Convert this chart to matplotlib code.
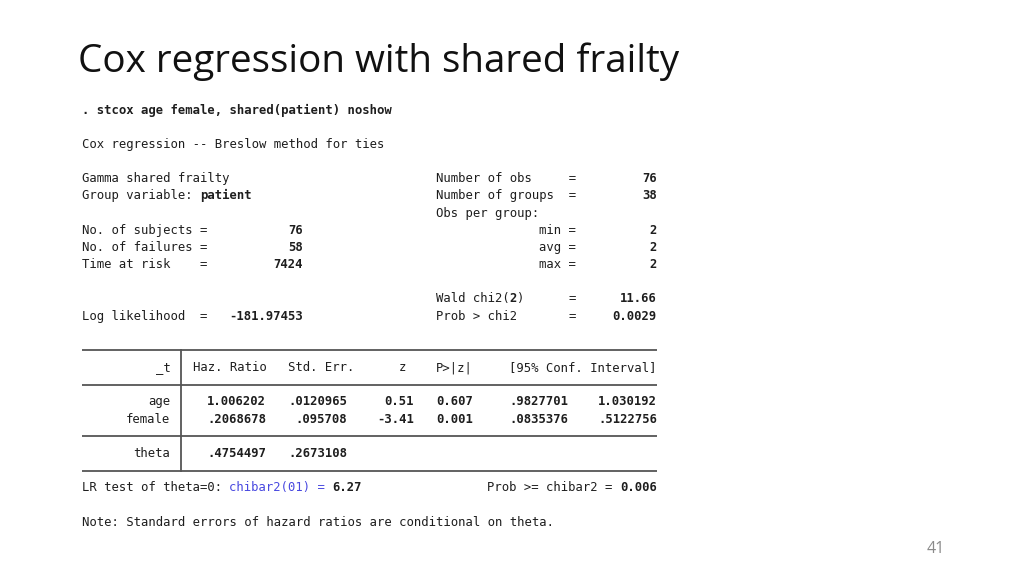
import matplotlib.pyplot as plt

TITLE = "Cox regression with shared frailty"
PAGE_NO = "41"

COMMAND = ". stcox age female, shared(patient) noshow"
METHOD = "Cox regression -- Breslow method for ties"
NOTE = "Note: Standard errors of hazard ratios are conditional on theta."

# header statistics
sample_labels = ["No. of subjects =", "No. of failures =", "Time at risk    ="]
sample_values = ["76", "58", "7424"]
group_labels = ["min =", "avg =", "max ="]
group_values = ["2", "2", "2"]
n_obs, n_groups = "76", "38"
wald_df, wald_chi2, prob_chi2 = "2", "11.66", "0.0029"
log_lik = "-181.97453"

# coefficient table
header = ["Haz. Ratio", "Std. Err.", "z", "P>|z|", "[95% Conf. Interval]"]
covariates = ["age", "female"]
haz_ratio = ["1.006202", ".2068678"]
std_err = [".0120965", ".095708"]
z_vals = ["0.51", "-3.41"]
p_vals = ["0.607", "0.001"]
ci_low = [".9827701", ".0835376"]
ci_high = ["1.030192", ".5122756"]
theta, theta_se = ".4754497", ".2673108"
lr_chibar2, lr_p = "6.27", "0.006"

# layout of the Stata log (character grid)
X0, CW = 82, 7.37
Y0, RH = 110, 17.17
MONO = "DejaVu Sans Mono"
FS = 8.8
INK = "#1e1e1e"
BLUE = "#4848e0"
RULE = "#555555"

fig = plt.figure(figsize=(10.24, 5.75), dpi=100)
ax = fig.add_axes([0, 0, 1, 1])
ax.set_xlim(0, 1024)
ax.set_ylim(575, 0)
ax.axis("off")


def put(row, col, text, bold=False, color=INK):
    ax.text(X0 + col * CW, Y0 + row * RH, text, fontfamily=MONO, fontsize=FS,
            fontweight="bold" if bold else "normal", color=color,
            ha="left", va="center")


def put_right(row, end, text, bold=False, color=INK):
    put(row, end - len(text), text, bold, color)


def rule(row):
    ax.plot([X0, X0 + 78 * CW], [Y0 + row * RH] * 2, color=RULE, lw=1.3,
            solid_capstyle="butt")


ax.text(78, 72, TITLE, fontfamily="Open Sans", fontsize=27.8, color="#111111",
        ha="left", va="baseline")
ax.text(936, 549, PAGE_NO, fontfamily="Open Sans", fontsize=11.5, color="#8a8a8a",
        ha="center", va="center")

put(0, 0, COMMAND, bold=True)
put(2, 0, METHOD)

put(4, 0, "Gamma shared frailty")
put(5, 0, "Group variable:")
put(5, 16, "patient", bold=True)
put(4, 48, "Number of obs     =")
put_right(4, 78, n_obs, bold=True)
put(5, 48, "Number of groups  =")
put_right(5, 78, n_groups, bold=True)
put(6, 48, "Obs per group:")

for i, (lab, val, glab, gval) in enumerate(zip(sample_labels, sample_values,
                                               group_labels, group_values)):
    put(7 + i, 0, lab)
    put_right(7 + i, 30, val, bold=True)
    put(7 + i, 62, glab)
    put_right(7 + i, 78, gval, bold=True)

put(11, 48, "Wald chi2(")
put(11, 58, wald_df, bold=True)
put(11, 59, ")")
put(11, 66, "=")
put_right(11, 78, wald_chi2, bold=True)
put(12, 0, "Log likelihood  =")
put_right(12, 30, log_lik, bold=True)
put(12, 48, "Prob > chi2")
put(12, 66, "=")
put_right(12, 78, prob_chi2, bold=True)

# table
for r in (14, 16, 19, 21):
    rule(r)
ax.plot([X0 + 13.5 * CW] * 2, [Y0 + 14 * RH, Y0 + 21 * RH], color=RULE, lw=1.3)

put_right(15, 12, "_t")
for text, col in zip(header, [15, 28, 43, 48, 58]):
    put(15, col, text)

col_ends = [25, 36, 45, 53, 66, 78]
for i, name in enumerate(covariates):
    put_right(17 + i, 12, name)
    vals = [haz_ratio[i], std_err[i], z_vals[i], p_vals[i], ci_low[i], ci_high[i]]
    for v, end in zip(vals, col_ends):
        put_right(17 + i, end, v, bold=True)

put_right(20, 12, "theta")
put_right(20, 25, theta, bold=True)
put_right(20, 36, theta_se, bold=True)

put(22, 0, "LR test of theta=0:")
put(22, 20, "chibar2(01) =", color=BLUE)
put(22, 34, lr_chibar2, bold=True)
put(22, 55, "Prob >= chibar2 =")
put_right(22, 78, lr_p, bold=True)

put(24, 0, NOTE)

fig.savefig("out.png", dpi=100, facecolor="white")
